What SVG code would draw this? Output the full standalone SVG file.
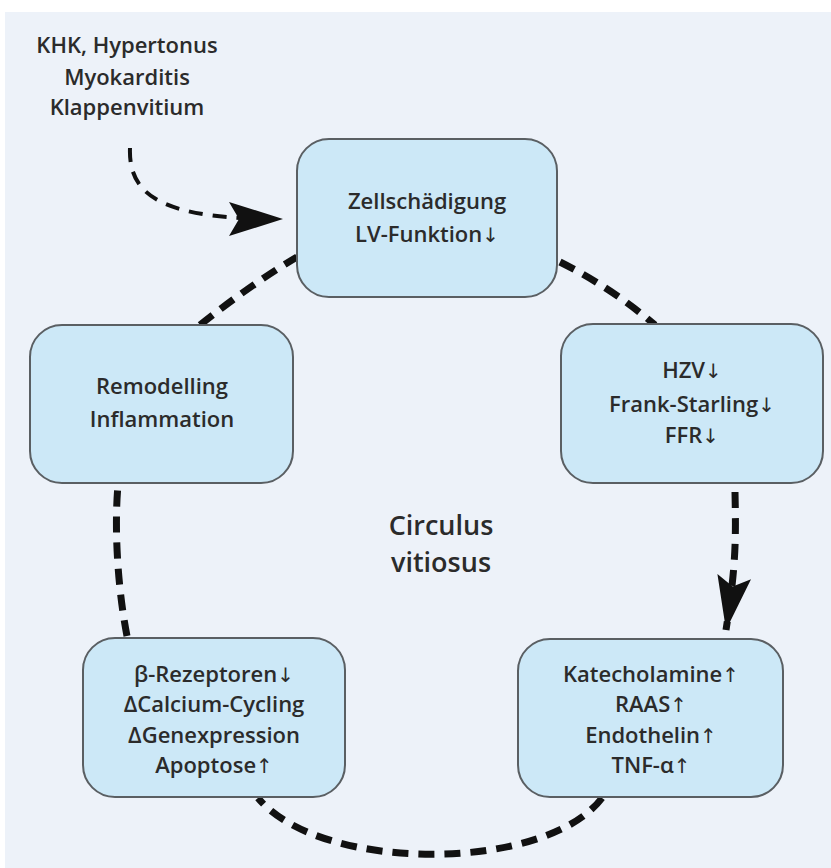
<svg xmlns="http://www.w3.org/2000/svg" width="831" height="868" viewBox="0 0 831 868">
<style>
.box{fill:#cce8f7;stroke:#5a5f63;stroke-width:2}
.t{font-family:"Open Sans","Liberation Sans",sans-serif;font-weight:600;font-size:22px;fill:#2b2b2b;text-anchor:middle}
.a{font-family:"DejaVu Sans",sans-serif;font-weight:normal;font-size:20px}
.big{font-size:27px}
.c{fill:none;stroke:#111;stroke-width:7;stroke-dasharray:16 10}
.thin{stroke-width:4;stroke-dasharray:14 10}
</style>
<defs>
<marker id="ah" markerUnits="userSpaceOnUse" markerWidth="70" markerHeight="40" viewBox="-60 -20 70 40" refX="0" refY="0" orient="auto">
<path d="M0,0 L-54,-17 L-44,0 L-54,17 Z" fill="#111"/>
</marker>
</defs>
<rect x="5" y="12" width="826" height="856" fill="#edf2f9"/>
<g id="connectors">
<path class="c thin" d="M130,148 C128,200 170,219 283,219" marker-end="url(#ah)"/>
<path class="c" d="M560,262 Q612,288 655,325"/>
<path class="c" d="M735,492 C736,540 736,565 726,630" marker-end="url(#ah)"/>
<path class="c" d="M602,798 C545,873 320,873 258,798"/>
<path class="c" d="M127,636 C118,590 114,530 118,485"/>
<path class="c" d="M200,325 Q250,285 297,257"/>
</g>
<g id="source">
<text class="t" x="127" y="53">KHK, Hypertonus</text>
<text class="t" x="127" y="85">Myokarditis</text>
<text class="t" x="127" y="115">Klappenvitium</text>
</g>
<g id="zell">
<rect class="box" x="297" y="139" width="260" height="158" rx="32"/>
<text class="t" x="427" y="209">Zellschädigung</text>
<text class="t" x="427" y="242">LV-Funktion<tspan class="a">↓</tspan></text>
</g>
<g id="hzv">
<rect class="box" x="561" y="324" width="262" height="159" rx="32"/>
<text class="t" x="692" y="378">HZV<tspan class="a">↓</tspan></text>
<text class="t" x="692" y="412">Frank-Starling<tspan class="a">↓</tspan></text>
<text class="t" x="692" y="443">FFR<tspan class="a">↓</tspan></text>
</g>
<g id="katecholamine">
<rect class="box" x="518" y="639" width="265" height="158" rx="32"/>
<text class="t" x="651" y="682">Katecholamine<tspan class="a">↑</tspan></text>
<text class="t" x="651" y="712">RAAS<tspan class="a">↑</tspan></text>
<text class="t" x="651" y="743">Endothelin<tspan class="a">↑</tspan></text>
<text class="t" x="651" y="773">TNF-α<tspan class="a">↑</tspan></text>
</g>
<g id="beta">
<rect class="box" x="83" y="638" width="262" height="159" rx="32"/>
<text class="t" x="214" y="682">β-Rezeptoren<tspan class="a">↓</tspan></text>
<text class="t" x="214" y="712">ΔCalcium-Cycling</text>
<text class="t" x="214" y="743">ΔGenexpression</text>
<text class="t" x="214" y="773">Apoptose<tspan class="a">↑</tspan></text>
</g>
<g id="remodelling">
<rect class="box" x="30" y="325" width="263" height="158" rx="32"/>
<text class="t" x="162" y="394">Remodelling</text>
<text class="t" x="162" y="427">Inflammation</text>
</g>
<g id="circulus">
<text class="t big" x="441" y="535">Circulus</text>
<text class="t big" x="441" y="572">vitiosus</text>
</g>
</svg>
